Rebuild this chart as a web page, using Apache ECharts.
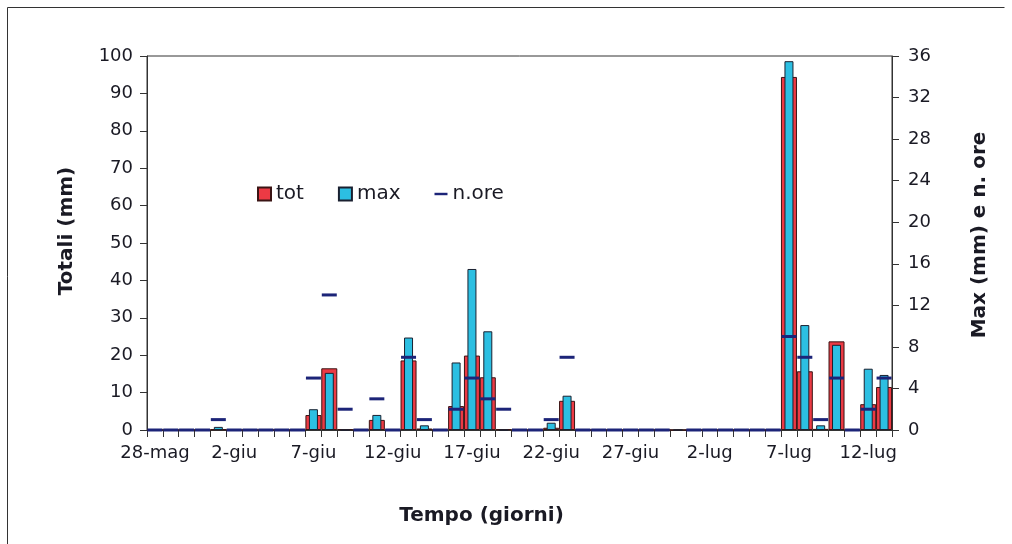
<!DOCTYPE html>
<html>
<head>
<meta charset="utf-8">
<script src="https://cdn.jsdelivr.net/npm/echarts@6/dist/echarts.min.js"></script>
<style>
html,body{margin:0;padding:0;background:#fff;}
#c{width:1012px;height:544px;}
</style>
</head>
<body>
<div id="c"></div>
<script>
const categories = [
  '28-mag','29-mag','30-mag','31-mag',
  '1-giu','2-giu','3-giu','4-giu','5-giu','6-giu','7-giu','8-giu','9-giu','10-giu',
  '11-giu','12-giu','13-giu','14-giu','15-giu','16-giu','17-giu','18-giu','19-giu','20-giu',
  '21-giu','22-giu','23-giu','24-giu','25-giu','26-giu','27-giu','28-giu','29-giu','30-giu',
  '1-lug','2-lug','3-lug','4-lug','5-lug','6-lug','7-lug','8-lug','9-lug','10-lug',
  '11-lug','12-lug','13-lug'
];
// total rain per day (mm), left axis
const tot = [0,0,0,0, 0.2, 0,0,0,0,0, 4.0,16.5,0.2,0,2.7,0,18.6,0.4,0,6.4,19.9,14.1,0.2,0,0,0.6,7.8,
  0,0,0,0,0,0, 0, 0,0,0,0,0,0, 94.4,15.7,0.3,23.7,0,6.9,11.5];
// max rain (mm), right axis
const maxv = [0,0,0,0, 0.3, 0,0,0,0,0, 2.0,5.5,0,0,1.45,0,8.9,0.45,0,6.5,15.5,9.5,0,0,0,0.7,3.3,
  0,0,0,0,0,0, 0, 0,0,0,0,0,0, 35.5,10.1,0.45,8.2,0,5.9,5.3];
// number of rain hours, right axis
const nore = [0,0,0,0, 1, 0,0,0,0,0, 5,13,2,0,3,0,7,1,0,2,5,3,2,0,0,1,7,
  0,0,0,0,0,0, null, 0,0,0,0,0,0, 9,7,1,5,0,2,5];
const leftTicks = {min:0, max:100, interval:10};
const rightTicks = {min:0, max:36, interval:4};

const FONT = 'DejaVu Sans';
const TXT = '#1a1a24';
const chart = echarts.init(document.getElementById('c'), null, {renderer:'canvas'});
const axisLine = {show:true, lineStyle:{color:'#333', width:1}};
chart.setOption({
  animation:false,
  backgroundColor:'#fff',
  textStyle:{fontFamily:FONT, color:TXT},
  graphic:[
    {type:'polyline', shape:{points:[[7.5,560],[7.5,7.5],[1004.5,7.5]]}, style:{stroke:'#333', lineWidth:1, fill:null}, silent:true}
  ],
  legend:{
    left:252, top:179, itemWidth:13, itemHeight:13, itemGap:34,
    textStyle:{fontFamily:FONT, fontSize:20, color:TXT},
    data:[
      {name:'tot', icon:'rect'},
      {name:'max', icon:'rect'},
      {name:'n.ore', icon:'path://M0,0 M16,16 M0,6.5 L16,6.5 L16,9.5 L0,9.5 Z'}
    ]
  },
  grid:{left:147, right:120, top:56, bottom:114, show:true, borderColor:'#333', borderWidth:1, backgroundColor:'transparent'},
  xAxis:[
    {type:'category', data:categories, boundaryGap:true,
     axisLine:axisLine,
     axisTick:{show:true, interval:0, length:7, lineStyle:{color:'#333'}},
     axisLabel:{interval:4, fontFamily:FONT, fontSize:18, color:TXT, margin:14},
     name:'Tempo (giorni)', nameLocation:'middle', nameGap:76,
     nameTextStyle:{fontFamily:FONT, fontSize:20, fontWeight:'bold', color:TXT, padding:[0,76,0,0]}
    },
    {type:'category', data:categories, show:false, boundaryGap:true, position:'bottom'}
  ],
  yAxis:[
    {type:'value', min:leftTicks.min, max:leftTicks.max, interval:leftTicks.interval, position:'left',
     axisLine:axisLine, axisTick:{show:true, length:7, lineStyle:{color:'#333'}},
     splitLine:{show:false},
     axisLabel:{fontFamily:FONT, fontSize:18, color:TXT, margin:14},
     name:'Totali (mm)', nameLocation:'middle', nameRotate:90, nameGap:70,
     nameTextStyle:{fontFamily:FONT, fontSize:20, fontWeight:'bold', color:TXT, padding:[0,0,0,24]}
    },
    {type:'value', min:rightTicks.min, max:rightTicks.max, interval:rightTicks.interval, position:'right',
     axisLine:axisLine, axisTick:{show:true, length:7, lineStyle:{color:'#333'}},
     splitLine:{show:false},
     axisLabel:{fontFamily:FONT, fontSize:18, color:TXT, margin:16},
     name:'Max (mm) e n. ore', nameLocation:'middle', nameRotate:90, nameGap:78,
     nameTextStyle:{fontFamily:FONT, fontSize:20, fontWeight:'bold', color:TXT, padding:[0,0,0,16]}
    }
  ],
  series:[
    {name:'tot', type:'bar', xAxisIndex:0, yAxisIndex:0, data:tot, barWidth:16,
     itemStyle:{color:'#ec3a44', borderColor:'#3a1414', borderWidth:1}, z:2},
    {name:'max', type:'bar', xAxisIndex:1, yAxisIndex:1, data:maxv, barWidth:9,
     itemStyle:{color:'#2cbfe2', borderColor:'#1a2030', borderWidth:1}, z:3},
    {name:'n.ore', type:'scatter', xAxisIndex:0, yAxisIndex:1, data:nore,
     symbol:'rect', symbolSize:[15,3], itemStyle:{color:'#1c2478', opacity:1}, z:4}
  ]
});
</script>
</body>
</html>
